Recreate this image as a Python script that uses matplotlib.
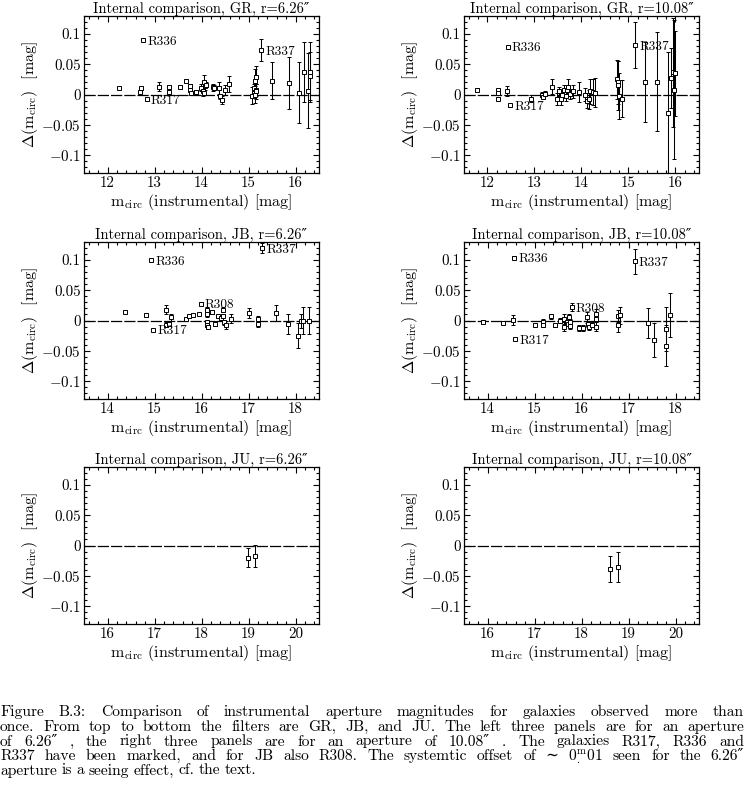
import numpy as np
import matplotlib
matplotlib.use("Agg")
import matplotlib.pyplot as plt
from matplotlib.ticker import MultipleLocator, FixedLocator, FixedFormatter

plt.rcParams['font.family'] = ['cmr10', 'DejaVu Serif']
plt.rcParams['mathtext.fontset'] = 'cm'
plt.rcParams['axes.formatter.use_mathtext'] = True
plt.rcParams['axes.unicode_minus'] = False

# ---------------- data ----------------
# GR, r=6.26"
gr626_x = [12.24, 12.70, 12.72, 12.76, 12.83, 13.10, 13.31, 13.31, 13.54, 13.66,
           13.75, 13.76, 13.77, 13.89, 13.98, 14.04, 14.05, 14.06, 14.08, 14.10,
           14.24, 14.27, 14.38, 14.40, 14.44, 14.50, 14.59, 15.07, 15.12, 15.13,
           15.14, 15.15, 15.16, 15.17, 15.27, 15.51, 15.86, 16.08, 16.19, 16.27,
           16.30, 16.31]
gr626_y = [0.011, 0.004, 0.010, 0.090, -0.008, 0.0126, 0.012, 0.004, 0.012, 0.022,
           0.014, 0.007, 0.002, 0.004, 0.011, 0.005, 0.020, 0.003, 0.014, 0.016,
           0.012, 0.011, 0.011, -0.003, -0.009, 0.008, 0.017, -0.002, 0.011, 0.000,
           0.022, 0.029, 0.008, 0.005, 0.0736, 0.023, 0.019, 0.003, 0.037, 0.006,
           0.037, 0.031]
gr626_e = [0.002, 0.002, 0.003, 0.002, 0.002, 0.0075, 0.003, 0.003, 0.003, 0.003,
           0.004, 0.003, 0.003, 0.003, 0.006, 0.008, 0.012, 0.004, 0.006, 0.004,
           0.006, 0.004, 0.010, 0.004, 0.007, 0.008, 0.013, 0.014, 0.006, 0.014,
           0.020, 0.018, 0.010, 0.012, 0.0175, 0.031, 0.043, 0.050, 0.050, 0.062,
           0.050, 0.040]
gr626_marked = {'R336': 12.76, 'R317': 12.83, 'R337': 15.27}

# GR, r=10.08"
gr1008_x = [11.78, 12.22, 12.22, 12.22, 12.41, 12.43, 12.48, 12.93, 13.15, 13.19,
            13.23, 13.37, 13.47, 13.53, 13.56, 13.59, 13.63, 13.67, 13.70, 13.72,
            13.76, 13.81, 13.94, 14.08, 14.11, 14.15, 14.18, 14.24, 14.28, 14.76,
            14.77, 14.78, 14.79, 14.87, 15.14, 15.36, 15.61, 15.84, 15.91, 15.95,
            15.97, 15.98]
gr1008_y = [0.008, 0.007, 0.002, -0.007, 0.006, 0.079, -0.018, -0.007, 0.000, -0.004,
            0.001, 0.013, -0.008, 0.005, -0.007, 0.000, 0.008, -0.003, 0.007, 0.013,
            0.001, 0.005, 0.004, 0.000, -0.010, -0.008, 0.005, 0.004, 0.003, 0.025,
            0.020, 0.015, -0.003, -0.007, 0.082, 0.021, 0.021, -0.030, 0.027, 0.037,
            0.008, 0.035]
gr1008_e = [0.002, 0.002, 0.002, 0.002, 0.008, 0.002, 0.002, 0.006, 0.004, 0.004,
            0.004, 0.012, 0.010, 0.008, 0.010, 0.006, 0.008, 0.008, 0.008, 0.012,
            0.008, 0.011, 0.017, 0.010, 0.013, 0.016, 0.020, 0.022, 0.024, 0.032,
            0.035, 0.040, 0.038, 0.031, 0.038, 0.066, 0.082, 0.100, 0.050, 0.090,
            0.115, 0.070]
gr1008_marked = {'R336': 12.43, 'R317': 12.48, 'R337': 15.14}

# JB, r=6.26"
jb626_x = [14.37, 14.81, 14.93, 14.97, 15.24, 15.25, 15.30, 15.36, 15.66, 15.73,
           15.82, 15.94, 15.98, 16.12, 16.12, 16.12, 16.12, 16.13, 16.22, 16.28,
           16.35, 16.42, 16.46, 16.46, 16.47, 16.53, 16.62, 17.02, 17.20, 17.20,
           17.29, 17.59, 17.84, 18.05, 18.12, 18.16, 18.28]
jb626_y = [0.0144, 0.0083, 0.100, -0.0156, 0.018, -0.007, -0.0056, 0.005, 0.0017, 0.0067,
           0.0094, 0.0106, 0.028, 0.018, 0.010, -0.003, -0.008, -0.011, 0.014, -0.0056,
           0.0067, 0.0044, 0.018, 0.008, -0.003, -0.007, 0.003, 0.0128, 0.0017, -0.006,
           0.1194, 0.013, -0.0056, -0.025, -0.0006, 0.000, 0.000]
jb626_e = [0.002, 0.002, 0.002, 0.002, 0.008, 0.004, 0.003, 0.005, 0.002, 0.002,
           0.002, 0.002, 0.003, 0.004, 0.004, 0.003, 0.003, 0.003, 0.003, 0.004,
           0.003, 0.003, 0.004, 0.003, 0.004, 0.007, 0.007, 0.008, 0.005, 0.004,
           0.0083, 0.013, 0.016, 0.021, 0.011, 0.022, 0.023]
jb626_marked = {'R336': 14.93, 'R317': 14.97, 'R308': 15.98, 'R337': 17.29}

# JB, r=10.08"
jb1008_x = [13.91, 14.34, 14.55, 14.57, 14.59, 15.01, 15.19, 15.19, 15.35, 15.44,
            15.55, 15.62, 15.63, 15.69, 15.72, 15.74, 15.75, 15.76, 15.79, 15.95,
            16.04, 16.11, 16.14, 16.15, 16.22, 16.31, 16.31, 16.31, 16.77, 16.78,
            16.82, 17.13, 17.41, 17.55, 17.80, 17.80, 17.89]
jb1008_y = [-0.0017, -0.004, 0.001, 0.104, -0.0306, -0.0072, -0.0017, -0.008, 0.0072, -0.008,
            -0.0006, 0.003, -0.010, -0.0017, -0.0056, 0.0056, -0.003, -0.009, 0.022, -0.012,
            -0.012, 0.0056, -0.0056, -0.011, -0.007, 0.011, 0.0017, -0.010, 0.008, -0.007,
            0.0083, 0.098, -0.004, -0.032, -0.014, -0.042, 0.0094]
jb1008_e = [0.002, 0.002, 0.008, 0.002, 0.002, 0.002, 0.005, 0.003, 0.004, 0.003,
            0.004, 0.008, 0.008, 0.003, 0.004, 0.005, 0.005, 0.005, 0.007, 0.005,
            0.005, 0.009, 0.005, 0.004, 0.004, 0.008, 0.004, 0.008, 0.010, 0.012,
            0.014, 0.021, 0.025, 0.028, 0.037, 0.034, 0.036]
jb1008_marked = {'R336': 14.57, 'R317': 14.59, 'R308': 15.79, 'R337': 17.13}

# JU
ju626_x = [18.99, 19.14]
ju626_y = [-0.020, -0.017]
ju626_e = [0.016, 0.018]
ju1008_x = [18.61, 18.78]
ju1008_y = [-0.039, -0.035]
ju1008_e = [0.021, 0.025]

xticks_gr = [12, 13, 14, 15, 16]
xticks_jb = [14, 15, 16, 17, 18]
xticks_ju = [16, 17, 18, 19, 20]
xlim_gr = (11.5, 16.5)
xlim_jb = (13.5, 18.5)
xlim_ju = (15.5, 20.5)
yticks = [-0.1, -0.05, 0, 0.05, 0.1]
ytick_labels = [r'$-$0.1', r'$-$0.05', '0', '0.05', '0.1']

titles = ["Internal comparison, GR, r=6.26\u2033",
          "Internal comparison, GR, r=10.08\u2033",
          "Internal comparison, JB, r=6.26\u2033",
          "Internal comparison, JB, r=10.08\u2033",
          "Internal comparison, JU, r=6.26\u2033",
          "Internal comparison, JU, r=10.08\u2033"]

caption_lines = [
    "Figure B.3:  Comparison of instrumental aperture magnitudes for galaxies observed more than",
    "once. From top to bottom the filters are GR, JB, and JU. The left three panels are for an aperture",
    "of 6.26\u2033 , the right three panels are for an aperture of 10.08\u2033 .  The galaxies R317, R336 and",
    "R337 have been marked, and for JB also R308. The systemtic offset of \u223c $0^{\\mathrm{m}}_{.}01$ seen for the 6.26\u2033",
    "aperture is a seeing effect, cf. the text.",
]

# ---------------- figure ----------------
W, H = 745, 798
fig = plt.figure(figsize=(W / 100, H / 100), dpi=100)

col_left = [84, 464]
row_top = [16, 242, 467]
aw, ah = 235, 157

panels = [
    (gr626_x, gr626_y, gr626_e, gr626_marked, xlim_gr, xticks_gr),
    (gr1008_x, gr1008_y, gr1008_e, gr1008_marked, xlim_gr, xticks_gr),
    (jb626_x, jb626_y, jb626_e, jb626_marked, xlim_jb, xticks_jb),
    (jb1008_x, jb1008_y, jb1008_e, jb1008_marked, xlim_jb, xticks_jb),
    (ju626_x, ju626_y, ju626_e, {}, xlim_ju, xticks_ju),
    (ju1008_x, ju1008_y, ju1008_e, {}, xlim_ju, xticks_ju),
]

TICK_FS = 10.8
LAB_FS = 11.5
TITLE_FS = 10.5
for i, (xs, ys, es, marked, xlim, xt) in enumerate(panels):
    r, c = divmod(i, 2)
    left = col_left[c] / W
    bottom = 1 - (row_top[r] + ah) / H
    ax = fig.add_axes([left, bottom, aw / W, ah / H])
    ax.axhline(0, color='k', lw=0.9, ls=(0, (9, 1.6)), zorder=1)
    ax.errorbar(xs, ys, yerr=es, fmt='s', ms=3.0, mfc='white', mec='k', mew=0.7,
                ecolor='k', elinewidth=0.75, capsize=1.6, capthick=0.75, zorder=3)
    xa = np.array(xs)
    for name, xv in marked.items():
        k = int(np.argmin(np.abs(xa - xv)))
        ax.annotate(name, (xs[k], ys[k]), xytext=(3.0, 0), textcoords='offset points',
                    ha='left', va='center_baseline', fontsize=9.6, zorder=4)
    ax.set_xlim(*xlim)
    ax.set_ylim(-0.13, 0.13)
    ax.xaxis.set_major_locator(FixedLocator(xt))
    ax.xaxis.set_major_formatter(FixedFormatter([str(v) for v in xt]))
    ax.xaxis.set_minor_locator(MultipleLocator(0.2))
    ax.yaxis.set_major_locator(FixedLocator(yticks))
    ax.yaxis.set_major_formatter(FixedFormatter(ytick_labels))
    ax.yaxis.set_minor_locator(MultipleLocator(0.01))
    ax.tick_params(which='both', direction='in', top=True, right=True,
                   labelsize=TICK_FS, width=0.8, pad=2.5)
    ax.tick_params(which='major', length=4.5)
    ax.tick_params(which='minor', length=2.5)
    for s in ax.spines.values():
        s.set_linewidth(0.9)
    ax.set_title(titles[i], fontsize=TITLE_FS, pad=1.0)
    ax.set_xlabel(r"m$_{\rm circ}$ (instrumental) [mag]", fontsize=LAB_FS, labelpad=1.5)
    ax.set_ylabel(r"$\Delta$(m$_{\rm circ}$)  [mag]", fontsize=LAB_FS, labelpad=1.0)

# ---------------- caption (justified) ----------------
renderer = fig.canvas.get_renderer()
CFS = 11.2
baselines = [716, 731, 745.5, 760, 774.5]
for li, line in enumerate(caption_lines):
    y = 1 - baselines[li] / H
    words = line.split()
    texts = [fig.text(0, y, w, fontsize=CFS, ha='left', va='baseline') for w in words]
    widths = [t.get_window_extent(renderer).width for t in texts]
    if li < len(caption_lines) - 1:
        gap = (W - 1 - sum(widths)) / (len(words) - 1)
    else:
        gap = 4.5
    xpos = 0.0
    for t, w in zip(texts, widths):
        t.set_x(xpos / W)
        xpos += w + gap

fig.savefig("out.png", dpi=100)
